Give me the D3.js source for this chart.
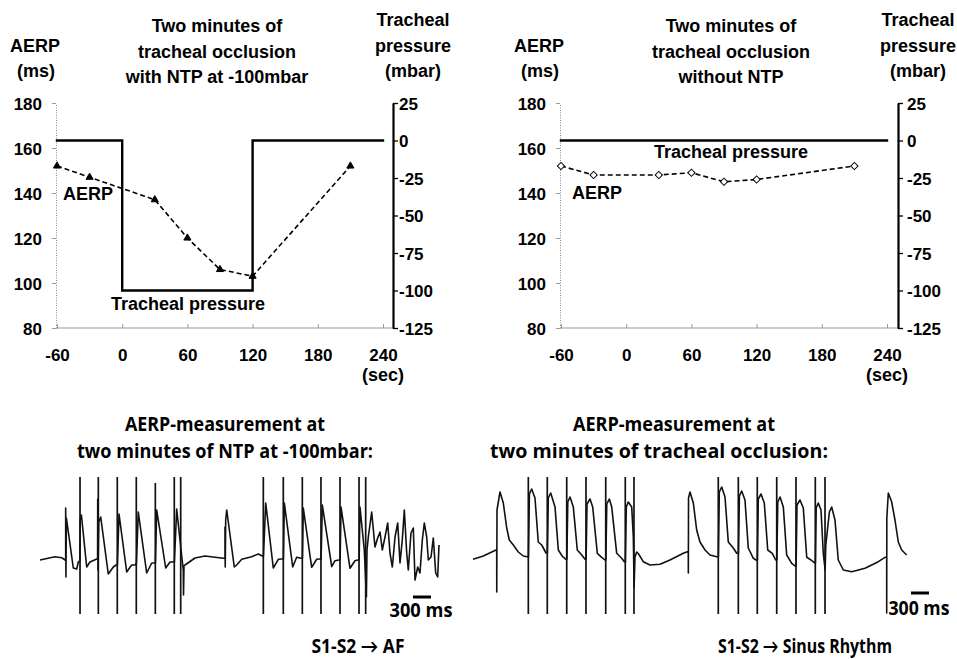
<!DOCTYPE html>
<html>
<head>
<meta charset="utf-8">
<script src="https://cdn.jsdelivr.net/npm/d3@7"></script>
<style>
  body { margin: 0; background: #fff; }
  svg { display: block; }
</style>
</head>
<body>
<div id="container"></div>
<script>
// ---- upper panels: AERP (ms) and tracheal pressure (mbar) vs time (sec)
const timeSec     = [-60, -30, 30, 60, 90, 120, 210];
const aerpNtp     = [152, 147, 137, 120, 106, 103, 152];
const aerpOcc     = [152, 148, 148, 149, 145, 146, 152];
const pressNtpT   = [-60, 0, 0, 120, 120, 240];
const pressNtp    = [0, 0, -100, -100, 0, 0];
const pressOccT   = [-60, 240];
const pressOcc    = [0, 0];
const xTicks      = [-60, 0, 60, 120, 180, 240];
const aerpTicks   = [80, 100, 120, 140, 160, 180];
const pressTicks  = [25, 0, -25, -50, -75, -100, -125];

// ---- lower traces: time (ms), signal (arbitrary mV)
const afStim = [[667, 8.3], [972, 8.3], [1288, 8.3], [1605, 8.3], [1922, 7.7], [2238, 8.3], [2345, 8.3],
                [3722, 8.3], [4055, 8.3], [4372, 8.3], [4683, 8.3], [5000, 8.3], [5317, 8.3], [5428, 8.3]];
const afTrace = [
  [0, 0], [250, 0.33], [362, 0.23], [417, 0], [428, 0], [428, 5.2], [432, -1.7], [440, 4.2], [555, -0.8], [612, -0.9], [638, -0.2], [665, -0.1],
  [670, 4.0], [690, 4.5], [778, -0.7], [833, -0.2], [945, 0.1],
  [960, 0.1], [962, 6.1], [967, -1.0], [980, 3.8], [1012, 4.3], [1138, -1.4], [1222, -0.7], [1267, -0.5],
  [1290, -0.5], [1317, 4.6], [1445, -1.2], [1528, -0.5], [1583, -0.5],
  [1607, -0.3], [1638, 4.8], [1778, -1.3], [1862, -0.3], [1905, -0.3],
  [1924, -0.3], [1945, 5.0], [2095, -0.8], [2167, -0.2], [2222, -0.2],
  [2240, -0.2], [2278, 5.1], [2333, 2.0], [2360, 0.5], [2388, -1.0], [2392, -3.5], [2400, -0.6], [2417, -0.5],
  [2583, 0.2], [2750, 0.4], [2917, 0.27], [3055, 0.17],
  [3083, 0.17], [3083, 3.3], [3087, -0.7], [3095, 4.0], [3112, 5.0], [3238, -0.7], [3278, -0.5], [3362, 0.07],
  [3528, 0.33], [3638, 0.6], [3705, 0.4],
  [3724, 0.4], [3762, 5.7], [3888, -0.8], [3972, 0.07], [4028, 0.1],
  [4057, 0.1], [4072, 5.7], [4212, -0.7], [4278, 0.27], [4350, 0.17],
  [4374, 0.17], [4388, 5.2], [4528, -0.73], [4612, 0.07], [4667, 0.1],
  [4685, 0.1], [4705, 5.5], [4862, -0.67], [4917, -0.07], [4983, 0],
  [5002, 0], [5017, 5.3], [5167, -0.83], [5250, -0.07], [5295, 0],
  [5319, 0], [5333, 5.3], [5405, 1.0], [5440, -3.7], [5450, 1.0],
  [5472, 2.3], [5528, 4.8], [5583, 1.3], [5628, 2.2], [5667, 2.8], [5705, 1.0], [5750, 2.3], [5795, 3.7],
  [5833, 0.7], [5872, -0.7], [5917, 2.3], [5962, 3.7], [6000, -0.3], [6038, 2.0], [6072, 5.0], [6112, 0.7],
  [6138, -1.0], [6183, 2.7], [6222, 3.2], [6250, -2.0], [6295, -0.7], [6333, -1.3], [6372, 2.0], [6405, 3.7],
  [6445, 2.3], [6472, 0], [6517, 0.3], [6555, 2.2], [6595, -1.3], [6628, -1.7], [6650, 1.5]
];
const srStim = [922, 1238, 1562, 1883, 2212, 2538, 2683, 4088, 4422, 4738, 5062, 5383, 5705, 5867].map(t => [t, 8.3]);
const srTrace = [
  [0, 0.07], [172, 0.4], [383, 1.0], [395, 1.0], [396, -3.2], [400, 5.0], [450, 6.8], [505, 5.7], [562, 3.2],
  [605, 2.0], [672, 1.5], [755, 0.8], [838, 0.4], [905, 0.33],
  [924, 0.3], [940, 6.6], [978, 7.1], [1033, 6.2], [1088, 1.8], [1145, 1.5], [1217, 0.7],
  [1240, 0.7], [1255, 6.2], [1295, 6.7], [1367, 5.3], [1422, 1.0], [1495, 0.33], [1550, 0.07],
  [1564, 0.07], [1580, 5.8], [1617, 6.3], [1672, 5.3], [1738, 1.0], [1812, 0.5], [1867, 0.07],
  [1885, 0.07], [1900, 5.6], [1950, 6.1], [1995, 5.3], [2072, 0.67], [2145, 0.27], [2200, 0],
  [2214, 0], [2230, 5.6], [2272, 6.1], [2312, 5.3], [2395, 0.67], [2478, 0.17], [2522, -0.17],
  [2540, -0.17], [2555, 5.3], [2588, 5.8], [2645, 5.3], [2672, 2.3],
  [2685, -2.7], [2700, 0.3], [2728, 0.8], [2760, 0.6], [2838, -0.17], [2950, -0.5], [3117, -0.43], [3283, 0],
  [3505, 0.67], [3572, 0.83],
  [3588, 0.83], [3589, -1.3], [3592, 6.2], [3617, 6.8], [3672, 5.7], [3728, 3.0], [3783, 1.8], [3867, 1.0],
  [3950, 0.5], [4062, 0.33],
  [4090, 0.33], [4105, 6.8], [4145, 7.3], [4200, 6.3], [4255, 1.8], [4338, 1.2], [4395, 0.67],
  [4424, 0.67], [4440, 6.4], [4478, 6.9], [4533, 6.0], [4588, 1.2], [4672, 0.17], [4717, 0],
  [4740, 0], [4755, 6.1], [4800, 6.6], [4855, 5.7], [4912, 1.0], [4988, 0.67], [5045, 0],
  [5064, 0], [5080, 5.8], [5117, 6.3], [5172, 5.3], [5228, 0.5], [5312, -0.33], [5367, -0.6],
  [5385, -0.6], [5400, 5.5], [5450, 6.0], [5505, 5.2], [5562, 0.27], [5633, 0], [5688, -0.27],
  [5707, -0.27], [5720, 5.2], [5755, 5.7], [5800, 5.0], [5838, 0.67],
  [5869, -1.0], [5880, 1.5], [5940, 4.8], [5978, 5.3], [6033, 4.0], [6088, 0], [6172, -1.0], [6312, -1.17],
  [6533, -0.83], [6755, -0.17], [6867, 0.27],
  [6895, 0.27], [6895, -5.3], [6897, 4.2], [6922, 6.7], [6978, 5.8], [7033, 4.0], [7088, 1.8], [7145, 1.0], [7228, 0.5]
];
const scaleBarMs = 300;

const W = 957, H = 659;
const arial = "'Liberation Sans', Arial, sans-serif";
const calib = "'Open Sans', Lato, sans-serif";

const svg = d3.select("#container").append("svg")
  .attr("width", W).attr("height", H)
  .style("background", "#fff");

// plain hyphen like the original, not the unicode minus
const fmt = d => String(d);

function panel(o) {
  const x  = d3.scaleLinear().domain([-60, 240]).range([o.left, o.left + 326]);
  const yA = d3.scaleLinear().domain([80, 180]).range([328, 103]);
  const yP = d3.scaleLinear().domain([-125, 25]).range([328, 103]);
  const g = svg.append("g").attr("font-family", arial).attr("font-weight", "bold");

  // x axis (thin grey)
  g.append("line")
    .attr("x1", x(-60) - 1).attr("x2", o.axisR)
    .attr("y1", yA(80)).attr("y2", yA(80))
    .attr("stroke", "#999").attr("stroke-width", 1);
  const xa = g.append("g")
    .attr("transform", `translate(0,${yA(80)})`)
    .call(d3.axisBottom(x).tickValues(xTicks).tickFormat(fmt).tickSizeInner(-4).tickSizeOuter(0).tickPadding(21));
  xa.select(".domain").remove();
  xa.selectAll("line").attr("stroke", "#999");
  xa.attr("font-family", arial).attr("font-size", 17).attr("font-weight", "bold");

  // left axis (dotted grey)
  const ya = g.append("g")
    .attr("transform", `translate(${x(-60) - 1},0)`)
    .call(d3.axisLeft(yA).tickValues(aerpTicks).tickFormat(fmt).tickSizeInner(4).tickSizeOuter(0).tickPadding(10));
  ya.select(".domain").attr("stroke", "#888").attr("stroke-dasharray", "1,1.5");
  ya.selectAll("line").attr("stroke", "#999");
  ya.attr("font-family", arial).attr("font-size", 17).attr("font-weight", "bold");
  ya.selectAll("text").attr("dy", "0.36em");

  // right axis (black)
  const pa = g.append("g")
    .attr("transform", `translate(${o.axisR},0)`)
    .call(d3.axisRight(yP).tickValues(pressTicks).tickFormat(fmt).tickSizeInner(5).tickSizeOuter(0).tickPadding(o.padR));
  pa.select(".domain").attr("stroke", "#000").attr("stroke-width", 2.2);
  pa.selectAll("line").attr("stroke", "#000").attr("stroke-width", 1.3);
  pa.attr("font-family", arial).attr("font-size", 17).attr("font-weight", "bold");
  pa.selectAll("text").attr("dy", "0.36em");

  // tracheal pressure
  const press = o.pT.map((t, i) => ({ t, p: o.p[i] }));
  g.append("path")
    .datum(press)
    .attr("fill", "none").attr("stroke", "#000").attr("stroke-width", 2.4)
    .attr("stroke-linecap", "square")
    .attr("d", d3.line().x(d => x(d.t)).y(d => yP(d.p)));

  // AERP dashed line + markers
  const aerp = timeSec.map((t, i) => ({ t, v: o.aerp[i] }));
  g.append("path")
    .datum(aerp)
    .attr("fill", "none").attr("stroke", "#000").attr("stroke-width", 1.6)
    .attr("stroke-dasharray", "5,3")
    .attr("d", d3.line().x(d => x(d.t)).y(d => yA(d.v)));
  g.selectAll("path.mk").data(aerp).join("path")
    .attr("class", "mk")
    .attr("transform", d => `translate(${x(d.t)},${yA(d.v)})` + (o.marker === "diamond" ? " rotate(45)" : ""))
    .attr("d", o.marker === "diamond"
      ? d3.symbol(d3.symbolSquare, 26)()
      : d3.symbol(d3.symbolTriangle, 22)())
    .attr("fill", o.marker === "diamond" ? "#fff" : "#000")
    .attr("stroke", "#000").attr("stroke-width", 1);

  const txt = (s, cx, y, size = 18) => g.append("text")
    .attr("x", cx).attr("y", y).attr("text-anchor", "middle")
    .attr("font-size", size).text(s);

  o.title.forEach((s, i) => txt(s, o.titleX, 32 + i * 25.7));
  txt("AERP", o.aerpX, 52);
  txt("(ms)", o.aerpX + 1, 77);
  txt("Tracheal", o.pressX, 26);
  txt("pressure", o.pressX, 52);
  txt("(mbar)", o.pressX, 77);
  txt("(sec)", x(240), 381, 18);
  txt("AERP", o.aerpLab[0], o.aerpLab[1]);
  txt("Tracheal pressure", o.pressLab[0], o.pressLab[1]);
}

panel({
  left: 57, axisR: 393, padR: 1,
  aerp: aerpNtp, pT: pressNtpT, p: pressNtp, marker: "triangle",
  title: ["Two minutes of", "tracheal occlusion", "with NTP at -100mbar"], titleX: 217,
  aerpX: 35, pressX: 413, aerpLab: [88, 200], pressLab: [188, 310]
});
panel({
  left: 561, axisR: 898, padR: 4,
  aerp: aerpOcc, pT: pressOccT, p: pressOcc, marker: "diamond",
  title: ["Two minutes of", "tracheal occlusion", "without NTP"], titleX: 731,
  aerpX: 539, pressX: 918, aerpLab: [597, 199], pressLab: [731, 158]
});

// ---- lower recordings
function recording(o) {
  const span = d3.max(o.trace, d => d[0]);
  const pxPerMs = 18 / scaleBarMs;
  const x = d3.scaleLinear().domain([0, span]).range([o.left, o.left + span * pxPerMs]);
  const y = d3.scaleLinear().domain([-6, 9]).range([620, 470]);
  const g = svg.append("g");

  g.selectAll("line.stim").data(o.stim).join("line")
    .attr("class", "stim")
    .attr("x1", d => x(d[0])).attr("x2", d => x(d[0]))
    .attr("y1", d => y(d[1])).attr("y2", y(-5.4))
    .attr("stroke", "#111").attr("stroke-width", 1.7);

  g.append("path")
    .datum(o.trace)
    .attr("fill", "none").attr("stroke", "#111").attr("stroke-width", 1.6)
    .attr("stroke-linejoin", "round")
    .attr("d", d3.line().x(d => x(d[0])).y(d => y(d[1])));

  // 300 ms scale bar
  g.append("line")
    .attr("x1", x(o.bar[0])).attr("x2", x(o.bar[0] + scaleBarMs))
    .attr("y1", y(o.bar[1])).attr("y2", y(o.bar[1]))
    .attr("stroke", "#000").attr("stroke-width", 3);

  const txt = (s, cx, yy, w) => g.append("text")
    .attr("x", cx).attr("y", yy).attr("text-anchor", "middle")
    .attr("font-family", calib).attr("font-weight", "bold").attr("font-size", 19)
    .attr("textLength", w).attr("lengthAdjust", "spacingAndGlyphs")
    .text(s);
  o.texts.forEach(t => txt(...t));
}

recording({
  left: 40, trace: afTrace, stim: afStim, bar: [6217, -3.7],
  texts: [
    ["AERP-measurement at", 225, 431, 200],
    ["two minutes of NTP at -100mbar:", 225, 458, 296],
    ["300 ms", 421, 617, 63],
    ["S1-S2 \u2192 AF", 358, 653, 93]
  ]
});
recording({
  left: 473, trace: srTrace, stim: srStim, bar: [7300, -3.3],
  texts: [
    ["AERP-measurement at", 674, 431, 202],
    ["two minutes of tracheal occlusion:", 659, 458, 338],
    ["300 ms", 919, 615, 61],
    ["S1-S2 \u2192 Sinus Rhythm", 805, 653, 174]
  ]
});
</script>
</body>
</html>
